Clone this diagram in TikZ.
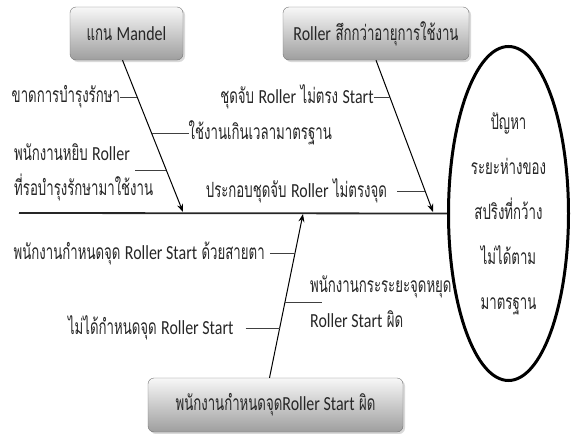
\documentclass[tikz,border=0pt]{standalone}
\usepackage{fontspec}
\setmainfont[Script=Thai, FakeStretch=0.63]{Loma}
\newfontfamily\lat[FakeStretch=0.8, Scale=0.95]{Carlito}
\newcommand\en[1]{{\lat #1}}
\usetikzlibrary{arrows.meta,shapes.geometric,shadows,calc}
\begin{document}
\begin{tikzpicture}[x=1pt,y=-1pt,
  every node/.style={text=black!85},
  cause/.style={draw=black!55, rounded corners=6pt, top color=black!3, bottom color=black!38,
    minimum height=53, inner sep=2pt, font=\fontsize{21}{24}\selectfont,
    drop shadow={shadow xshift=2pt, shadow yshift=-2pt, opacity=0.3}},
  lbl/.style={inner sep=0pt, font=\fontsize{21}{24}\selectfont},
  lbl2/.style={lbl, align=left, font=\fontsize{21}{35}\selectfont},
  bone/.style={line width=1pt, -{Stealth[length=8pt,width=6pt]}},
  twig/.style={line width=0.9pt, draw=black!75},
  spine/.style={line width=1.8pt, draw=black!85}]
\useasboundingbox (0,0) rectangle (571,434);

% category boxes
\node[cause, minimum width=113] (mandel) at (126.5,33.5) {แกน \en{Mandel}};
\node[cause, minimum width=186] (wear) at (376,33.5) {\en{Roller} สึกกว่าอายุการใช้งาน};
\node[cause, minimum width=255, minimum height=54] (setpt) at (275.5,405) {พนักงานกำหนดจุด\en{Roller Start} ผิด};

% problem head
\node[draw, ellipse, line width=3pt, minimum width=120, minimum height=334, align=center,
  font=\fontsize{21}{45}\selectfont] (prob) at (508.5,213.5)
  {ปัญหา\\ระยะห่างของ\\สปริงที่กว้าง\\ไม่ได้ตาม\\มาตรฐาน};

% spine
\coordinate (tail) at (19,213);
\draw[spine] (tail) -- (prob.west);

% main bones
\coordinate (a1) at ([xshift=-4pt]mandel.south);
\coordinate (h1) at (183,212);
\coordinate (a2) at (wear.south);
\coordinate (h2) at (433,212);
\coordinate (a3) at ([xshift=-6pt]setpt.north);
\coordinate (h3) at (303,214);
\draw[bone] (a1) -- (h1);
\draw[bone] (a2) -- (h2);
\draw[bone] (a3) -- (h3);

% points where the sub-causes meet the bones
\coordinate (b1) at ($(a1)!0.243!(h1)$);
\coordinate (b2) at ($(a1)!0.48!(h1)$);
\coordinate (b3) at ($(a1)!0.724!(h1)$);
\coordinate (b4) at ($(a2)!0.243!(h2)$);
\coordinate (b5) at ($(a2)!0.862!(h2)$);
\coordinate (b6) at ($(a3)!0.758!(h3)$);
\coordinate (b7) at ($(a3)!0.303!(h3)$);
\coordinate (b8) at ($(a3)!0.46!(h3)$);

% sub-causes: Mandel
\node[lbl, anchor=east] (l1) at ([xshift=-17pt]b1) {ขาดการบำรุงรักษา};
\draw[twig] (l1.east) -- (b1);
\node[lbl, anchor=west] (l2) at ([xshift=37pt]b2) {ใช้งานเกินเวลามาตรฐาน};
\draw[twig] (b2) -- (l2.west);
\node[lbl2, anchor=west] (l3) at (14,172) {พนักงานหยิบ \en{Roller}\\ที่รอบำรุงรักษามาใช้งาน};
\coordinate (b3s) at ([xshift=-31pt]b3);
\draw[twig] (b3s) -- (b3);

% sub-causes: Roller wear
\node[lbl, anchor=east] (l4) at ([xshift=-16pt]b4) {ชุดจับ \en{Roller} ไม่ตรง \en{Start}};
\draw[twig] (l4.east) -- (b4);
\node[lbl, anchor=east] (l5) at ([xshift=-38pt]b5) {ประกอบชุดจับ \en{Roller} ไม่ตรงจุด};
\draw[twig] ([xshift=10pt]l5.east) -- (b5);

% sub-causes: start point setting
\node[lbl, anchor=east] (l6) at ([xshift=-30pt]b6) {พนักงานกำหนดจุด \en{Roller Start} ด้วยสายตา};
\draw[twig] ([xshift=5pt]l6.east) -- (b6);
\node[lbl, anchor=east] (l7) at ([xshift=-46pt]b7) {ไม่ได้กำหนดจุด \en{Roller Start}};
\draw[twig] ([xshift=12pt]l7.east) -- (b7);
\node[lbl2, anchor=west] (l8) at (310,302) {พนักงานกระระยะจุดหยุด\\\en{Roller Start} ผิด};
\coordinate (b8e) at ([xshift=37pt]b8);
\draw[twig] (b8) -- (b8e);
\end{tikzpicture}
\end{document}
